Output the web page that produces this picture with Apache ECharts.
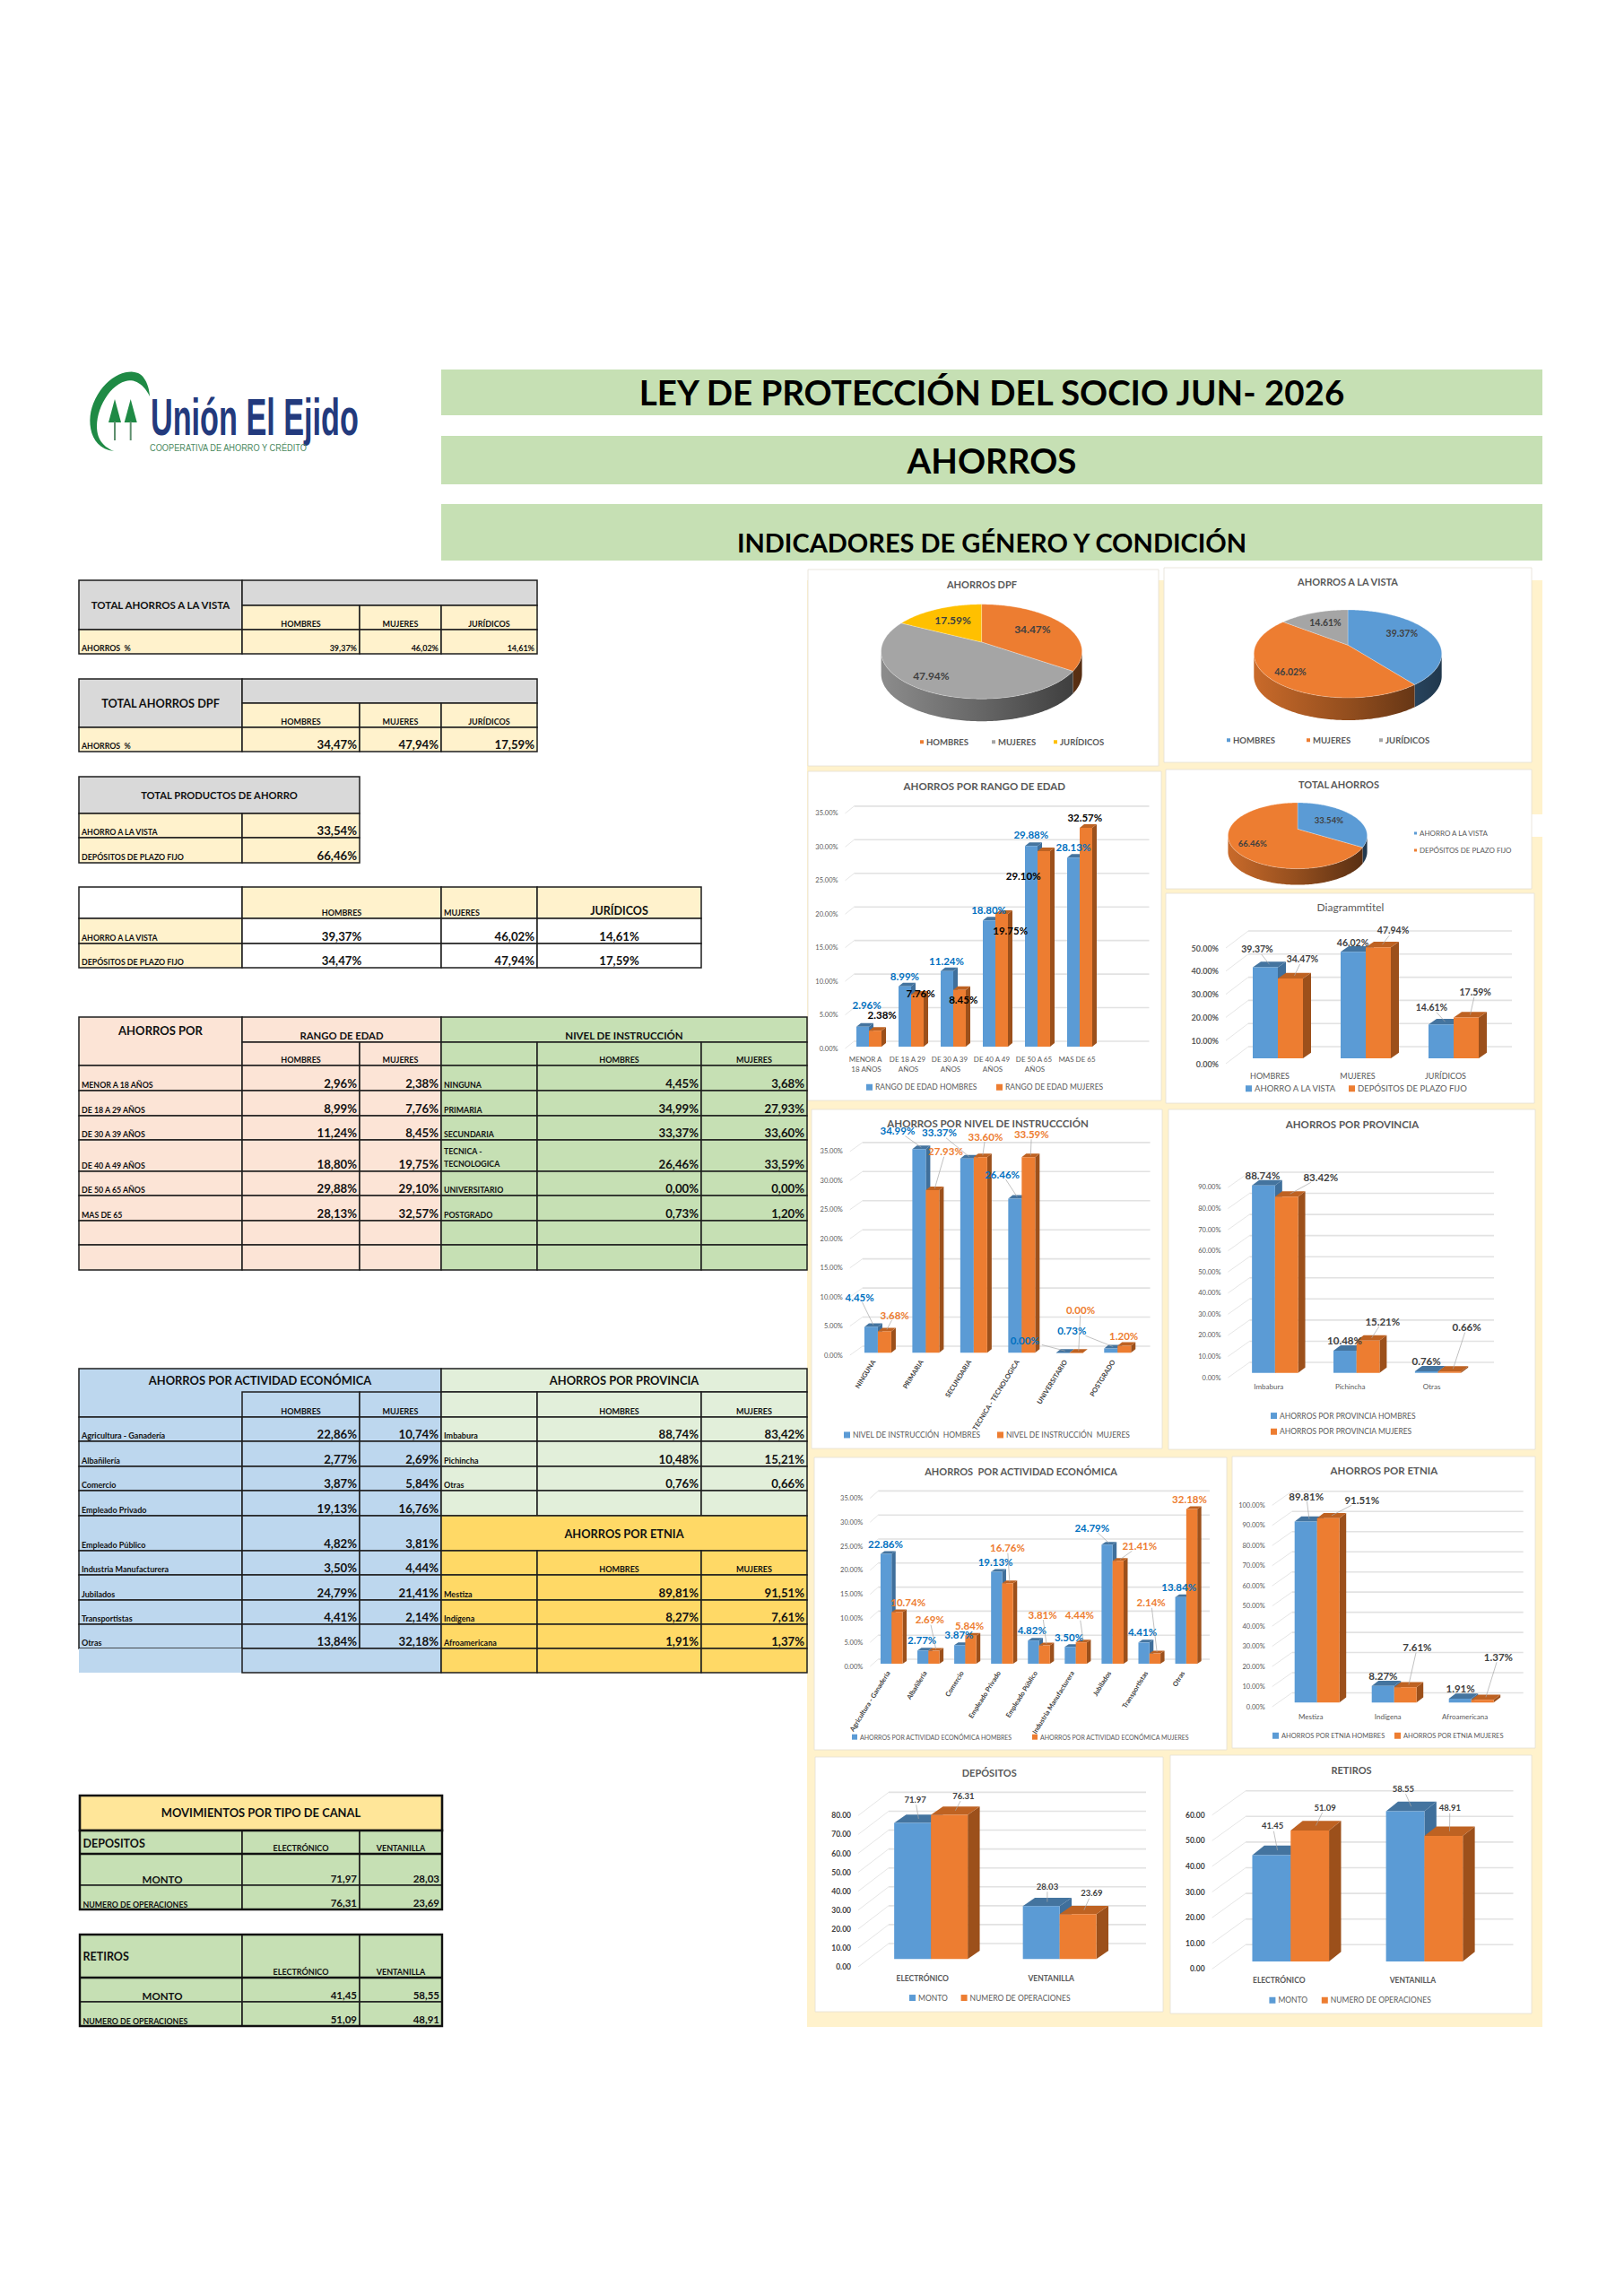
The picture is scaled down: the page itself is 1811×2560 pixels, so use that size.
<!DOCTYPE html>
<html><head><meta charset="utf-8">
<script src="https://cdn.jsdelivr.net/npm/echarts@6/dist/echarts.min.js"></script>
<style>html,body{margin:0;padding:0;background:#fff}#c{width:1811px;height:2560px}</style>
</head><body><div id="c"></div>
<script>
// ---------- DATA ----------
const titlesMain = ['LEY DE PROTECCIÓN DEL SOCIO JUN- 2026','AHORROS','INDICADORES DE GÉNERO Y CONDICIÓN'];
const tipoCats = ['HOMBRES','MUJERES','JURÍDICOS'];
const vistaVals = [39.37,46.02,14.61];
const dpfVals = [34.47,47.94,17.59];
const prodCats = ['AHORRO A LA VISTA','DEPÓSITOS DE PLAZO FIJO'];
const prodVals = [33.54,66.46];
const edadCats = ['MENOR A 18 AÑOS','DE 18 A 29 AÑOS','DE 30 A 39 AÑOS','DE 40 A 49 AÑOS','DE 50 A 65 AÑOS','MAS DE 65'];
const edadH = [2.96,8.99,11.24,18.80,29.88,28.13];
const edadM = [2.38,7.76,8.45,19.75,29.10,32.57];
const nivelCats = ['NINGUNA','PRIMARIA','SECUNDARIA','TECNICA - TECNOLOGICA','UNIVERSITARIO','POSTGRADO'];
const nivelH = [4.45,34.99,33.37,26.46,0,0.73];
const nivelM = [3.68,27.93,33.60,33.59,0,1.20];
const actCats = ['Agricultura - Ganadería','Albañilería','Comercio','Empleado Privado','Empleado Público','Industria Manufacturera','Jubilados','Transportistas','Otras'];
const actH = [22.86,2.77,3.87,19.13,4.82,3.50,24.79,4.41,13.84];
const actM = [10.74,2.69,5.84,16.76,3.81,4.44,21.41,2.14,32.18];
const provCats = ['Imbabura','Pichincha','Otras'];
const provH = [88.74,10.48,0.76];
const provM = [83.42,15.21,0.66];
const etniaCats = ['Mestiza','Indígena','Afroamericana'];
const etniaH = [89.81,8.27,1.91];
const etniaM = [91.51,7.61,1.37];
const canalCats = ['ELECTRÓNICO','VENTANILLA'];
const depMonto = [71.97,28.03];
const depOps = [76.31,23.69];
const retMonto = [41.45,58.55];
const retOps = [51.09,48.91];

// ---------- STYLE ----------
const F='Lato', BLUE='#5B9BD5', ORANGE='#ED7D31', GRAY='#A5A5A5', GOLD='#FFC000';
const TXT='#404040', TICK='#595959', LBLUE='#0070C0';
const CREAM='#FFF2CC', TGRAY='#D9D9D9', PEACH='#FCE4D6', GREEN='#C6E0B4', LGREEN='#E2EFDA', TBLUE='#BDD7EE', YEL='#FFD966', LYEL='#FFE699';
const fmtC=v=>v.toFixed(2).replace('.',',')+'%', fmtP=v=>v.toFixed(2)+'%';
const VS=13.2;
const shade=(col,f)=>{const c=echarts.color.parse(col);return 'rgb('+Math.round(c[0]*f)+','+Math.round(c[1]*f)+','+Math.round(c[2]*f)+')';};

// ---------- GRAPHIC HELPERS ----------
const g=[];
function box(x0,y0,x1,y1,fill,sw,stroke){g.push({type:'rect',shape:{x:x0,y:y0,width:x1-x0,height:y1-y0},style:{fill:fill,stroke:sw===0?null:(stroke||'#1E1E1E'),lineWidth:sw===undefined?1.5:sw}});}
function txt(s,x,y,size,o){o=o||{};g.push({type:'text',x:x,y:y,scaleX:o.sx||1,style:{text:s,align:o.align||'left',verticalAlign:o.va||'bottom',fontSize:size,fontWeight:o.w||'bold',fontFamily:o.f||F,fill:o.fill||'#111'}});}
function cell(x0,y0,x1,y1,fill,s,size,align,va,sw){
  box(x0,y0,x1,y1,fill,sw);
  if(s===undefined||s==='')return;
  const x=align==='right'?x1-3:align==='center'?(x0+x1)/2:x0+3;
  const y=va==='middle'?(y0+y1)/2:y1-2;
  txt(s,x,y,size,{align:align||'left',va:va||'bottom'});
}
function bez(p0,p1,p2,p3){const o=[];for(let k=1;k<=14;k++){const t=k/14,u=1-t;o.push([u*u*u*p0[0]+3*u*u*t*p1[0]+3*u*t*t*p2[0]+t*t*t*p3[0],u*u*u*p0[1]+3*u*u*t*p1[1]+3*u*t*t*p2[1]+t*t*t*p3[1]]);}return o;}

// ---------- PAGE BACKGROUNDS ----------
box(492,412,1720,463,GREEN,0); box(492,486,1720,540,GREEN,0); box(492,562,1720,625,GREEN,0);
txt(titlesMain[0],1106,437,38.5,{align:'center',va:'middle',fill:'#000'});
txt(titlesMain[1],1106,513,38.5,{align:'center',va:'middle',fill:'#000'});
txt(titlesMain[2],1106,604,29,{align:'center',va:'middle',fill:'#000'});
box(900,647,1720,2260,CREAM,0);
box(1708,908,1720,933,'#fff',0);
[[901,635,1292,854],[1298,633,1708,850],[901,860,1295,1227],[1300,858,1708,991],[1300,996,1711,1230],
 [905,1237,1296,1615],[1303,1237,1712,1616],[908,1625,1368,1951],[1374,1624,1712,1949],[909,1959,1297,2243],[1305,1957,1708,2245]]
 .forEach(p=>box(p[0],p[1],p[2],p[3],'#fff',0.8,'#E4E0D4'));

// ---------- LOGO ----------
(function(){
  const a=[127,503],b=[104,450],c=[150,415],d=[167,442],e=[140,425],f=[108,475];
  const pts=[a].concat(bez(a,[100,500],[96,470],b),bez(b,[114,425],[135,412],c),bez(c,[160,416],[166,428],d),bez(d,[160,428],[150,422],e),bez(e,[122,430],[108,455],f),bez(f,[108,490],[115,498],a));
  g.push({type:'polygon',shape:{points:pts},style:{fill:'#1F8A45'}});
})();
[128,145.7].forEach(x=>{
  g.push({type:'polygon',shape:{points:[[x,445],[x-7,471],[x+7,471]]},style:{fill:'#1F8A45'}});
  g.push({type:'rect',shape:{x:x-1,y:470,width:2,height:21},style:{fill:'#5E8F6E'}});
});
txt('Unión El Ejido',168,494,58,{f:'Liberation Sans',fill:'#233A7D',sx:0.59});
txt('COOPERATIVA DE AHORRO Y CRÉDITO',167,505,11,{f:'Liberation Sans',w:'normal',fill:'#4C8A5F',sx:0.84});

// ---------- TABLES ----------
function tTotal(y0,y1,y2,y3,title,vals,valSize,titleSize){
  cell(88,y0,270,y2,TGRAY,title,titleSize,'center','middle');
  box(270,y0,599,y1,TGRAY);
  const xs=[270,401,492,599];
  tipoCats.forEach((c,i)=>cell(xs[i],y1,xs[i+1],y2,CREAM,c,9,'center'));
  cell(88,y2,270,y3,CREAM,'AHORROS  %',8.8);
  vals.forEach((v,i)=>cell(xs[i],y2,xs[i+1],y3,CREAM,fmtC(v),valSize,'right'));
}
tTotal(647,675,702,729,'TOTAL AHORROS A LA VISTA',vistaVals,9,11.5);
tTotal(757,784,811,838,'TOTAL AHORROS DPF',dpfVals,VS,12.7);
cell(88,866,401,907,TGRAY,'TOTAL PRODUCTOS DE AHORRO',11.2,'center','middle');
[[907,934],[934,962]].forEach((r,i)=>{
  cell(88,r[0],270,r[1],CREAM,prodCats[i],8.8);
  cell(270,r[0],401,r[1],CREAM,fmtC(prodVals[i]),VS,'right');
});
(function(){
  box(88,989,270,1024,'#fff');
  cell(270,989,492,1024,CREAM,tipoCats[0],9,'center');
  cell(492,989,599,1024,CREAM,tipoCats[1],9,'left');
  cell(599,989,782,1024,CREAM,tipoCats[2],12.5,'center');
  [[1024,1052,vistaVals],[1052,1079,dpfVals]].forEach((r,i)=>{
    cell(88,r[0],270,r[1],CREAM,prodCats[i],8.8);
    cell(270,r[0],492,r[1],'#fff',fmtC(r[2][0]),VS,'center');
    cell(492,r[0],599,r[1],'#fff',fmtC(r[2][1]),VS,'right');
    cell(599,r[0],782,r[1],'#fff',fmtC(r[2][2]),VS,'center');
  });
})();
(function(){
  cell(88,1134,270,1188,PEACH,'',0);
  txt('AHORROS POR',179,1149,13,{align:'center',va:'middle'});
  cell(270,1134,492,1162,PEACH,'RANGO DE EDAD',11.3,'center');
  cell(492,1134,900,1162,GREEN,'NIVEL DE INSTRUCCIÓN',11.5,'center');
  cell(270,1162,401,1188,PEACH,'HOMBRES',9,'center');
  cell(401,1162,492,1188,PEACH,'MUJERES',9,'center');
  box(492,1162,599,1188,GREEN);
  cell(599,1162,782,1188,GREEN,'HOMBRES',9,'center');
  cell(782,1162,900,1188,GREEN,'MUJERES',9,'center');
  const ys=[1188,1216,1244,1271,1306,1333,1361,1388,1416];
  for(let i=0;i<8;i++){
    const a=ys[i],b=ys[i+1],has=i<6;
    cell(88,a,270,b,PEACH,has?edadCats[i]:'',8.8);
    cell(270,a,401,b,PEACH,has?fmtC(edadH[i]):'',VS,'right');
    cell(401,a,492,b,PEACH,has?fmtC(edadM[i]):'',VS,'right');
    if(i===3){box(492,a,599,b,GREEN);txt('TECNICA -',495,1283,8.8,{va:'middle'});txt('TECNOLOGICA',495,1297,8.8,{va:'middle'});}
    else cell(492,a,599,b,GREEN,has?nivelCats[i]:'',8.8);
    cell(599,a,782,b,GREEN,has?fmtC(nivelH[i]):'',VS,'right');
    cell(782,a,900,b,GREEN,has?fmtC(nivelM[i]):'',VS,'right');
  }
})();
(function(){
  box(88,1526,492,1580,TBLUE);
  txt('AHORROS POR ACTIVIDAD ECONÓMICA',290,1539,12.9,{align:'center',va:'middle'});
  cell(270,1552,401,1580,TBLUE,'HOMBRES',9,'center');
  cell(401,1552,492,1580,TBLUE,'MUJERES',9,'center');
  cell(492,1526,900,1552,LGREEN,'AHORROS POR PROVINCIA',12.9,'center','middle');
  box(492,1552,599,1580,LGREEN);
  cell(599,1552,782,1580,LGREEN,'HOMBRES',9,'center');
  cell(782,1552,900,1580,LGREEN,'MUJERES',9,'center');
  const ys=[1580,1607,1635,1662,1690,1729,1756,1784,1811,1838,1865];
  for(let i=0;i<10;i++){
    const a=ys[i],b=ys[i+1],has=i<9;
    cell(88,a,270,b,TBLUE,has?actCats[i]:'',9,'left','bottom',has?1.5:0);
    cell(270,a,401,b,TBLUE,has?fmtC(actH[i]):'',VS,'right','bottom',has?1.5:0);
    cell(401,a,492,b,TBLUE,has?fmtC(actM[i]):'',VS,'right','bottom',has?1.5:0);
  }
  box(270,1838,492,1865,TBLUE);
  for(let i=0;i<4;i++){
    const a=ys[i],b=ys[i+1],has=i<3;
    cell(492,a,599,b,LGREEN,has?provCats[i]:'',9);
    cell(599,a,782,b,LGREEN,has?fmtC(provH[i]):'',VS,'right');
    cell(782,a,900,b,LGREEN,has?fmtC(provM[i]):'',VS,'right');
  }
  cell(492,1690,900,1729,YEL,'AHORROS POR ETNIA',12.8,'center','middle');
  box(492,1729,599,1756,YEL);
  cell(599,1729,782,1756,YEL,'HOMBRES',9,'center');
  cell(782,1729,900,1756,YEL,'MUJERES',9,'center');
  for(let i=0;i<4;i++){
    const a=ys[6+i],b=ys[7+i],has=i<3;
    cell(492,a,599,b,YEL,has?etniaCats[i]:'',9);
    cell(599,a,782,b,YEL,has?fmtC(etniaH[i]):'',VS,'right');
    cell(782,a,900,b,YEL,has?fmtC(etniaM[i]):'',VS,'right');
  }
})();
function tCanal(y,title,m,o,ysub){
  const xs=[89,270,401,493], sw=1.6;
  cell(xs[0],y[0],xs[1],y[1],GREEN,'',0,'left','bottom',sw);
  txt(title,92.5,ysub,12.5,{va:'middle'});
  canalCats.forEach((c,i)=>cell(xs[i+1],y[0],xs[i+2],y[1],GREEN,c,9,'center','bottom',sw));
  box(xs[0],y[1],xs[1],y[2],GREEN,sw);
  txt('MONTO',181,y[2]-1,11.5,{align:'center'});
  box(xs[0],y[2],xs[1],y[3],GREEN,sw);
  txt('NUMERO DE OPERACIONES',92.5,y[3]-1,8.8);
  [m,o].forEach((arr,r)=>arr.forEach((v,i)=>cell(xs[i+1],y[1+r],xs[i+2],y[2+r],GREEN,v.toFixed(2).replace('.',','),11.5,'right','bottom',sw)));
  g.push({type:'rect',shape:{x:xs[0],y:y[0],width:xs[3]-xs[0],height:y[3]-y[0]},style:{fill:null,stroke:'#111',lineWidth:2.4}});
  g.push({type:'line',shape:{x1:xs[0],y1:y[1],x2:xs[3],y2:y[1]},style:{stroke:'#111',lineWidth:2.4}});
}
box(89,2002,493,2041,LYEL,2.6,'#111');
txt('MOVIMIENTOS POR TIPO DE CANAL',291,2021,12.9,{align:'center',va:'middle'});
tCanal([2041,2067,2102,2129],'DEPOSITOS',depMonto,depOps,2055);
tCanal([2157,2205,2232,2259],'RETIROS',retMonto,retOps,2181);

// ---------- CHART BUILDERS ----------
const grids=[],xAxes=[],yAxes=[],series=[],titles=[],legends=[];
function title(s,x,y,size,weight){titles.push({text:s,left:x,top:y,textAlign:'center',textVerticalAlign:'middle',padding:0,textStyle:{fontSize:size,fontWeight:weight||'bold',fontFamily:F,color:TICK}});}
function legend(name,color,x,y,size,icon,w){legends.push({data:[{name:name,icon:'rect',itemStyle:{color:color}}],left:x,top:y-(size+2)/2,padding:0,itemGap:0,itemWidth:icon||7,itemHeight:icon||7,selectedMode:false,textStyle:{fontSize:size,fontFamily:F,fontWeight:w||'normal',color:TICK,padding:[0,0,0,-2]}});}
function barChart(c){
  const i=grids.length, H=c.max*c.sy;
  grids.push({left:c.x0,width:c.x1-c.x0,top:c.y0-H,height:H});
  xAxes.push({gridIndex:i,type:'category',data:c.cats,axisLine:{show:false},axisTick:{show:false},splitLine:{show:false},
    axisLabel:Object.assign({interval:0,margin:c.xm||7,fontSize:c.xs||8,fontFamily:F,color:c.xc||TICK,fontWeight:c.xw||'normal',hideOverlap:false},c.xl||{})});
  yAxes.push({gridIndex:i,type:'value',min:0,max:c.max,interval:c.step,axisLine:{show:false},axisTick:{show:false},splitLine:{show:false},
    axisLabel:{margin:c.ym||8,fontSize:c.ys||8,fontFamily:F,color:c.yc||TICK,fontWeight:c.yw||'normal',formatter:v=>v.toFixed(2)+(c.unit===undefined?'%':c.unit)}});
  const ticks=[];for(let t=0;t<=c.max;t+=c.step)ticks.push([0,t]);
  series.push({type:'custom',name:c.id+' rejilla',coordinateSystem:'cartesian2d',xAxisIndex:i,yAxisIndex:i,z:1,silent:true,data:ticks,encode:{x:0,y:1},
    renderItem:(p,api)=>{
      const y=api.coord([0,api.value(1)])[1],L=p.coordSys.x,R=L+p.coordSys.width;
      return {type:'group',children:[
        {type:'line',shape:{x1:L,y1:y,x2:L+c.wx,y2:y+c.wy},style:{stroke:'#E6E6E6',lineWidth:1}},
        {type:'line',shape:{x1:L+c.wx,y1:y+c.wy,x2:R+c.wx,y2:y+c.wy},style:{stroke:'#E2E2E2',lineWidth:1.6}}
      ]};
    }});
  const n=c.series.length;
  c.series.forEach((s,si)=>{
    const data=s.values.map((v,j)=>[j,v]);
    const barL=(api)=>{const t=api.coord([api.value(0),api.value(1)]);return t[0]+c.bx+(si-n/2)*c.bw;};
    series.push({type:'custom',name:s.name,coordinateSystem:'cartesian2d',xAxisIndex:i,yAxisIndex:i,z:2+si,itemStyle:{color:s.color},data:data,encode:{x:0,y:1},
      renderItem:(p,api)=>{
        const t=api.coord([api.value(0),api.value(1)]),b=api.coord([api.value(0),0]);
        const xl=barL(api),xr=xl+c.bw,yt=t[1]+c.by,yb=b[1]+c.by,dx=c.dx,dy=c.dy;
        return {type:'group',children:[
          {type:'polygon',shape:{points:[[xr,yb],[xr+dx,yb-dy],[xr+dx,yt-dy],[xr,yt]]},style:{fill:s.side}},
          {type:'polygon',shape:{points:[[xl,yt],[xr,yt],[xr+dx,yt-dy],[xl+dx,yt-dy]]},style:{fill:s.top}},
          {type:'rect',shape:{x:xl,y:yt,width:c.bw,height:Math.max(yb-yt,0.5)},style:{fill:s.color}}
        ]};
      }});
    series.push({type:'custom',name:s.name+' etiquetas',coordinateSystem:'cartesian2d',xAxisIndex:i,yAxisIndex:i,z:10,silent:true,data:data,encode:{x:0,y:1},
      renderItem:(p,api)=>{
        const v=api.value(1),t=api.coord([api.value(0),v]);
        const at=s.at[p.dataIndex];
        const fx=barL(api)+c.bw/2+c.dx/2,fy=t[1]+c.by-c.dy/2;
        const kids=[];
        const w=c.lw||19,h=6,ddx=fx-at[0],ddy=fy-at[1];
        const k=Math.min(ddx?w/Math.abs(ddx):9,ddy?h/Math.abs(ddy):9);
        if(k<1 && Math.hypot(ddx,ddy)*(1-k)>(c.leaderMin||7)){
          kids.push({type:'line',shape:{x1:at[0]+ddx*k,y1:at[1]+ddy*k,x2:fx,y2:fy},style:{stroke:'#A6A6A6',lineWidth:0.7}});
        }
        kids.push({type:'text',style:{text:(c.fmt||fmtP)(v),x:at[0],y:at[1],align:'center',verticalAlign:'middle',fill:s.label||TXT,fontSize:c.ls||11.5,fontWeight:'bold',fontFamily:F}});
        return {type:'group',children:kids};
      }});
  });
}
const SB={side:'#3F6F9B',top:'#44749F'}, SO={side:'#9C501B',top:'#BE6222'};
const hm=(name,values,color,at,label)=>Object.assign({name:name,values:values,color:color,at:at,label:label},color===BLUE?SB:SO);

function pieChart(c){
  let cum=0; const total=c.values.reduce((a,b)=>a+b,0);
  const pt=(th)=>{const dx=Math.sin(th),dy=-Math.cos(th),a=c.a,s=-a*dy+Math.sqrt(a*a*dy*dy-a*a+1);return [c.cx+c.rx*s*dx,c.cy+c.ry*(a+s*dy)];};
  c.values.forEach((v,i)=>{
    series.push({type:'custom',name:c.names[i],coordinateSystem:'none',z:3,itemStyle:{color:c.colors[i]},data:[[v,cum,total]],
      renderItem:(p,api)=>{
        const val=api.value(0),st=api.value(1)/api.value(2)*2*Math.PI,en=(api.value(1)+val)/api.value(2)*2*Math.PI;
        const pts=[];const N=Math.max(6,Math.ceil((en-st)/(Math.PI/180)));
        for(let k=0;k<=N;k++)pts.push(pt(st+(en-st)*k/N));
        const front=pts.filter(q=>q[1]>=c.cy);
        const col=c.colors[i];
        const kids=[];
        if(front.length>1){
          const wall=front.concat(front.slice().reverse().map(q=>[q[0],q[1]+c.depth]));
          kids.push({type:'polygon',shape:{points:wall},style:{fill:new echarts.graphic.LinearGradient(c.cx-c.rx,0,c.cx+c.rx,0,[
            {offset:0,color:shade(col,0.85)},{offset:0.5,color:shade(col,0.62)},{offset:1,color:shade(col,0.36)}],true)}});
        }
        kids.push({type:'polygon',shape:{points:[[c.cx,c.cy+c.a*c.ry]].concat(pts)},style:{fill:col,stroke:'rgba(255,255,255,0.45)',lineWidth:0.6}});
        kids.push({type:'text',style:{text:fmtP(val),x:c.at[i][0],y:c.at[i][1],align:'center',verticalAlign:'middle',fill:TXT,fontSize:c.ls,fontWeight:'bold',fontFamily:F}});
        return {type:'group',children:kids};
      }});
    cum+=v;
  });
}

// ---------- PIES ----------
pieChart({values:dpfVals,names:tipoCats,colors:[ORANGE,GRAY,GOLD],cx:1094.6,cy:726.5,rx:112,ry:52.7,a:-0.2,depth:25,ls:12,
  at:[[1151.4,701],[1038.4,753.2],[1062.5,691.1]]});
title('AHORROS DPF',1095,651,11);
legend(tipoCats[0],ORANGE,1026,828,9.5,4,'bold');legend(tipoCats[1],GRAY,1106,828,9.5,4,'bold');legend(tipoCats[2],GOLD,1175,828,9.5,4,'bold');

pieChart({values:vistaVals,names:tipoCats,colors:[BLUE,ORANGE,GRAY],cx:1503,cy:729,rx:104.7,ry:49,a:-0.2,depth:25,ls:10.5,
  at:[[1563.3,705.8],[1439,748.5],[1478,693.5]]});
title('AHORROS A LA VISTA',1503,648.5,11);
legend(tipoCats[0],BLUE,1368,826,9.5,4,'bold');legend(tipoCats[1],ORANGE,1457,826,9.5,4,'bold');legend(tipoCats[2],GRAY,1538,826,9.5,4,'bold');

pieChart({values:prodVals,names:prodCats,colors:[BLUE,ORANGE],cx:1447,cy:931.8,rx:77.6,ry:36.8,a:-0.2,depth:18,ls:9.5,
  at:[[1481.9,914],[1396.7,940.6]]});
title('TOTAL AHORROS',1493,874.5,11);
legend(prodCats[0],BLUE,1577,930,8,3);legend(prodCats[1],ORANGE,1577,949,8,3);

// ---------- BARS ----------
barChart({id:'edad',cats:edadCats.concat(['']),x0:942.5,x1:1271.5,y0:1169,sy:7.49,max:35,step:5,ys:7.5,wx:10,wy:-8,bx:3,by:-2,bw:14,dx:5,dy:4,ls:11.5,leaderMin:999,
  xs:8,xm:7,xl:{width:44,overflow:'break',lineHeight:10.5},
  series:[hm('RANGO DE EDAD HOMBRES',edadH,BLUE,[[966.6,1120.4],[1008.9,1088.4],[1055.5,1071.4],[1102.6,1014.5],[1149.8,930.7],[1196.9,944.5]],LBLUE),
          hm('RANGO DE EDAD MUJERES',edadM,ORANGE,[[983.7,1131],[1026.6,1107.7],[1074.3,1114],[1126.7,1037.8],[1141.2,976.5],[1209.8,911]],'#000')]});
title('AHORROS POR RANGO DE EDAD',1097.8,876,11.5);
legend('RANGO DE EDAD HOMBRES',BLUE,966,1213,8.5);legend('RANGO DE EDAD MUJERES',ORANGE,1111,1213,8.5);

barChart({id:'tipo',cats:tipoCats,x0:1367,x1:1661,y0:1186,sy:2.58,max:50,step:10,ys:9,yw:'bold',wx:25,wy:-19,bx:9,by:-6,bw:28,dx:9,dy:6.3,ls:10.5,lw:17,
  xs:9,xm:9,
  series:[hm(prodCats[0],vistaVals,BLUE,[[1402,1058],[1508.6,1050.8],[1596.5,1122.8]]),
          hm(prodCats[1],dpfVals,ORANGE,[[1452.4,1069],[1553.6,1037.4],[1645.2,1106]])]});
title('Diagrammtitel',1506,1011.7,12,'normal');
legend(prodCats[0],BLUE,1389,1214.5,9.5);legend(prodCats[1],ORANGE,1504,1214.5,9.5);

barChart({id:'nivel',cats:nivelCats,x0:947.8,x1:1268.6,y0:1511,sy:6.49,max:35,step:5,ys:7.5,wx:14,wy:-10,bx:4.4,by:-2.7,bw:15,dx:5,dy:4,ls:11.5,
  xs:7.5,xm:6,xw:'bold',xc:TXT,xl:{rotate:58},
  series:[hm('NIVEL DE INSTRUCCIÓN  HOMBRES',nivelH,BLUE,[[958.6,1446],[1000.9,1260.7],[1047.5,1262.7],[1117.6,1309],[1142.8,1494.3],[1195.3,1483.3]],LBLUE),
          hm('NIVEL DE INSTRUCCIÓN  MUJERES',nivelM,ORANGE,[[997.7,1466],[1054.4,1283.7],[1098.9,1267],[1150.3,1264.3],[1205,1460.7],[1253.2,1489.3]],ORANGE)]});
title('AHORROS POR NIVEL DE INSTRUCCCIÓN',1101.6,1252.7,11.5);
legend('NIVEL DE INSTRUCCIÓN  HOMBRES',BLUE,941,1600.7,8.5);legend('NIVEL DE INSTRUCCIÓN  MUJERES',ORANGE,1112,1600.7,8.5);

barChart({id:'prov',cats:provCats,x0:1369.4,x1:1642,y0:1536,sy:2.356,max:90,step:10,ys:7.5,wx:24,wy:-17,bx:7,by:-5.3,bw:25.7,dx:8,dy:6,ls:11.5,
  xs:8,xm:6,
  series:[hm('AHORROS POR PROVINCIA HOMBRES',provH,BLUE,[[1407.9,1310.3],[1499.5,1494.3],[1590.6,1517.3]]),
          hm('AHORROS POR PROVINCIA MUJERES',provM,ORANGE,[[1472.8,1312.3],[1541.8,1473],[1635.6,1479.7]])]});
title('AHORROS POR PROVINCIA',1508,1253,11.5);
legend('AHORROS POR PROVINCIA HOMBRES',BLUE,1417,1579.3,8.5);legend('AHORROS POR PROVINCIA MUJERES',ORANGE,1417,1597,8.5);

barChart({id:'act',cats:actCats,x0:970.3,x1:1340,y0:1858,sy:5.36,max:35,step:5,ys:7.5,wx:9,wy:-8,bx:3.4,by:-3,bw:12.3,dx:4.5,dy:3,ls:11.5,
  xs:7.5,xm:6,xw:'bold',xc:TXT,xl:{rotate:58},
  series:[hm('AHORROS POR ACTIVIDAD ECONÓMICA HOMBRES',actH,BLUE,[[987.5,1721.3],[1028.2,1828.3],[1069.4,1822.7],[1110.1,1741],[1150.8,1817.3],[1192,1825],[1217.8,1703],[1274,1819.7],[1314.7,1769.3]],LBLUE),
          hm('AHORROS POR ACTIVIDAD ECONÓMICA MUJERES',actM,ORANGE,[[1012.7,1786],[1036.8,1805.7],[1081.2,1812],[1123.5,1725.7],[1162.6,1800],[1203.9,1800.7],[1270.8,1723.3],[1283.7,1786.7],[1326.5,1671.3]],ORANGE)]});
title('AHORROS  POR ACTIVIDAD ECONÓMICA',1138.5,1640,11);
legend('AHORROS POR ACTIVIDAD ECONÓMICA HOMBRES',BLUE,950,1937.7,7,6);legend('AHORROS POR ACTIVIDAD ECONÓMICA MUJERES',ORANGE,1151,1937.7,7,6);

barChart({id:'etnia',cats:etniaCats,x0:1418.7,x1:1676.7,y0:1903,sy:2.247,max:100,step:10,ys:7.5,wx:22,wy:-15.5,bx:7,by:-4.7,bw:25,dx:7.5,dy:5.7,ls:11.5,
  xs:8,xm:7,
  series:[hm('AHORROS POR ETNIA HOMBRES',etniaH,BLUE,[[1456.7,1668],[1542.4,1868.3],[1628.6,1882.3]]),
          hm('AHORROS POR ETNIA MUJERES',etniaM,ORANGE,[[1518.8,1672.3],[1580.4,1836.7],[1670.9,1847.3]])]});
title('AHORROS POR ETNIA',1543.4,1639.3,11.5);
legend('AHORROS POR ETNIA HOMBRES',BLUE,1419,1936,7.5);legend('AHORROS POR ETNIA MUJERES',ORANGE,1555,1936,7.5);

const fmtN=v=>v.toFixed(2);
barChart({id:'dep',cats:canalCats,x0:957,x1:1244,y0:2193,sy:2.108,max:80,step:10,unit:'',ys:8.5,yw:'bold',yc:TXT,wx:34,wy:-26,bx:9.4,by:-8.7,bw:41,dx:13.4,dy:9.3,ls:9.5,lw:13,leaderMin:3,fmt:fmtN,
  xs:8.5,xm:8,xw:'bold',
  series:[hm('MONTO',depMonto,BLUE,[[1020.7,2006.3],[1168,2103.3]]),
          hm('NUMERO DE OPERACIONES',depOps,ORANGE,[[1074.3,2002],[1217.3,2110.7]])]});
title('DEPÓSITOS',1103.2,1976,11);
legend('MONTO',BLUE,1014,2228.3,8.5);legend('NUMERO DE OPERACIONES',ORANGE,1071.6,2228.3,8.5);

barChart({id:'ret',cats:canalCats,x0:1351.7,x1:1650,y0:2195.3,sy:2.86,max:60,step:10,unit:'',ys:8.5,yw:'bold',yc:TXT,wx:37.5,wy:-27,bx:13,by:-8.3,bw:42.8,dx:13.4,dy:10.7,ls:9.5,lw:13,leaderMin:3,fmt:fmtN,
  xs:8.5,xm:8,xw:'bold',
  series:[hm('MONTO',retMonto,BLUE,[[1419.2,2035.7],[1564.9,1994.3]]),
          hm('NUMERO DE OPERACIONES',retOps,ORANGE,[[1477.6,2015],[1616.8,2015.7]])]});
title('RETIROS',1507,1973.7,11);
legend('MONTO',BLUE,1415.4,2231,8.5);legend('NUMERO DE OPERACIONES',ORANGE,1473.8,2231,8.5);

// ---------- RENDER ----------
const chart=echarts.init(document.getElementById('c'),null,{renderer:'svg',width:1811,height:2560});
chart.setOption({animation:false,backgroundColor:'#fff',textStyle:{fontFamily:F},
  title:titles,legend:legends,grid:grids,xAxis:xAxes,yAxis:yAxes,series:series,
  graphic:{elements:g}});
</script></body></html>
